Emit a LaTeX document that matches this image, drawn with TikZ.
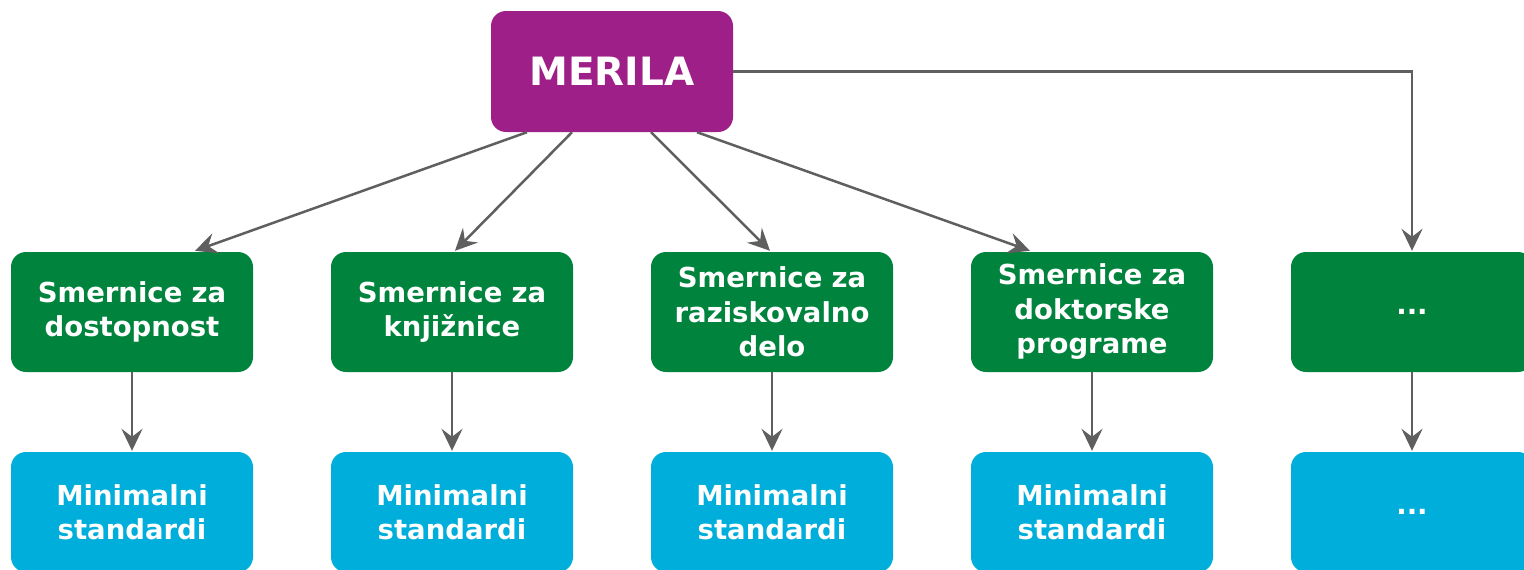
\documentclass[tikz,border=0pt]{standalone}
\usepackage{fontspec}
\setmainfont{DejaVu Sans}
\usetikzlibrary{arrows.meta,calc}
\definecolor{merilac}{HTML}{9E1F87}
\definecolor{smerc}{HTML}{00843D}
\definecolor{minc}{HTML}{00AEDB}
\definecolor{linec}{HTML}{5F5F5F}
\tikzset{tipc/.tip={Stealth[length=22pt,width=21pt,inset=8pt]}}
\begin{document}
\begin{tikzpicture}[x=1pt,y=-1pt,
  box/.style={rounded corners=15pt,minimum width=242pt,minimum height=120pt,text width=236pt,align=center,text=white,font=\bfseries\fontsize{27.5}{34.5}\selectfont,inner sep=0pt},
  topbox/.style={box,fill=merilac,minimum height=121pt,font=\bfseries\fontsize{39}{44}\selectfont},
  smerbox/.style={box,fill=smerc},
  minbox/.style={box,fill=minc},
  conn/.style={draw=linec,line width=2.5pt,-tipc}]
\useasboundingbox (0,0) rectangle (1524,570);
\node[topbox] (m) at (612,71.5) {MERILA};
\node[smerbox] (g1) at (132,312) {Smernice za\\dostopnost};
\node[smerbox] (g2) at (452,312) {Smernice za\\knjižnice};
\node[smerbox] (g3) at (772,312) {Smernice za\\raziskovalno\\delo};
\node[smerbox] (g4) at (1092,312) {Smernice za\\doktorske\\programe};
\node[smerbox] (g5) at (1412,312) {...};
\node[minbox] (b1) at (132,512) {Minimalni\\standardi};
\node[minbox] (b2) at (452,512) {Minimalni\\standardi};
\node[minbox] (b3) at (772,512) {Minimalni\\standardi};
\node[minbox] (b4) at (1092,512) {Minimalni\\standardi};
\node[minbox] (b5) at (1412,512) {...};
\draw[conn] ($(m.south)+(-85,0)$) -- ($(g1.north)+(63,-1)$);
\draw[conn] ($(m.south)+(-40,0)$) -- ($(g2.north)+(3,-1)$);
\draw[conn] ($(m.south)+(39,0)$) -- ($(g3.north)+(-2,-1)$);
\draw[conn] ($(m.south)+(85,0)$) -- ($(g4.north)+(-62,-1)$);
\draw[conn] (m.east) -| ($(g5.north)+(0,-1)$);
\foreach \i in {1,...,5}{
  \draw[conn] (g\i.south) -- ($(b\i.north)+(0,-1)$);
}
\end{tikzpicture}
\end{document}
